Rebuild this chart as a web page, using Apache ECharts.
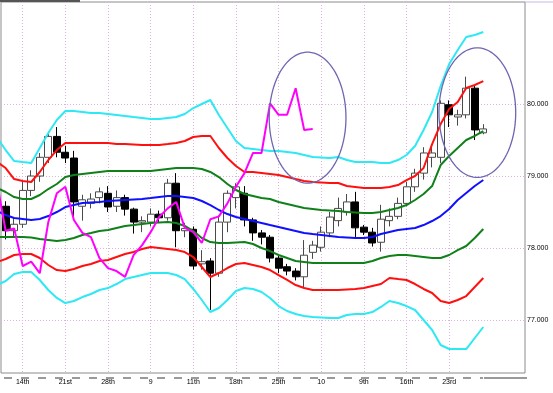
<!DOCTYPE html>
<html><head><meta charset="utf-8">
<script src="https://cdn.jsdelivr.net/npm/echarts@6/dist/echarts.min.js"></script>
<style>html,body{margin:0;padding:0;background:#fff;}#c{width:553px;height:393px;}</style>
</head><body><div id="c"></div>
<script>
// candles: [open, close, low, high], index 0..56
const candles = [
[78.58,78.24,78.12,78.65],[78.24,78.33,78.15,78.42],[78.33,78.80,78.28,78.92],[78.80,79.00,78.72,79.08],
[79.00,79.26,78.92,79.32],[79.26,79.55,79.18,79.62],[79.55,79.33,79.26,79.68],[79.33,79.25,79.18,79.42],
[79.25,78.64,78.40,79.35],[78.58,78.67,78.38,78.74],[78.62,78.68,78.55,78.76],[78.70,78.78,78.62,78.84],
[78.76,78.57,78.50,78.86],[78.58,78.70,78.50,78.80],[78.70,78.54,78.45,78.74],[78.54,78.36,78.20,78.56],
[78.36,78.38,78.22,78.44],[78.36,78.47,78.30,78.55],[78.47,78.42,78.36,78.52],[78.42,78.90,78.38,78.96],
[78.90,78.24,78.01,79.04],[78.24,78.27,78.15,78.35],[78.26,77.75,77.70,78.30],[77.78,77.81,77.70,77.97],
[77.82,77.65,77.14,77.86],[77.65,78.36,77.60,78.45],[78.36,78.76,78.22,78.80],[78.70,78.85,78.55,78.90],
[78.76,78.39,78.30,78.86],[78.39,78.21,78.10,78.42],[78.21,78.15,78.05,78.25],[78.15,77.86,77.80,78.18],
[77.86,77.72,77.65,77.90],[77.74,77.68,77.62,77.78],[77.68,77.60,77.55,77.72],[77.60,77.90,77.45,78.11],
[77.94,78.04,77.85,78.10],[78.01,78.22,77.95,78.30],[78.21,78.43,78.15,78.50],[78.38,78.55,78.30,78.70],
[78.50,78.64,78.45,78.75],[78.64,78.28,78.15,78.78],[78.29,78.22,78.18,78.32],[78.22,78.07,78.02,78.28],
[78.08,78.40,77.95,78.60],[78.38,78.44,78.30,78.55],[78.44,78.62,78.40,78.70],[78.62,78.85,78.58,78.92],
[78.85,79.04,78.78,79.10],[79.04,79.32,78.95,79.40],[79.26,79.32,79.12,79.42],[79.26,80.01,79.18,80.05],
[79.99,79.85,79.68,80.05],[79.82,79.85,79.70,79.92],[79.85,80.22,79.80,80.38],[80.22,79.64,79.50,80.25],
[79.60,79.654,79.58,79.72]
];
// band lines, index -1..56
const bandStart = -1;
const upper3 = [79.528,79.361,79.208,79.194,79.181,79.389,79.597,79.778,79.903,79.903,79.889,79.875,79.875,79.861,79.847,79.833,79.819,79.806,79.792,79.792,79.806,79.819,79.861,79.944,80.000,80.056,79.847,79.667,79.486,79.389,79.375,79.361,79.347,79.347,79.333,79.319,79.292,79.264,79.257,79.250,79.264,79.222,79.194,79.194,79.194,79.181,79.181,79.222,79.292,79.417,79.639,79.889,80.250,80.556,80.750,80.931,80.958,81.000];
const upper2 = [79.194,79.111,78.958,78.931,78.917,79.056,79.222,79.361,79.458,79.458,79.458,79.458,79.458,79.458,79.444,79.444,79.438,79.431,79.431,79.431,79.444,79.458,79.486,79.542,79.556,79.556,79.389,79.250,79.139,79.056,79.056,79.042,79.028,79.014,78.986,78.958,78.931,78.917,78.910,78.903,78.903,78.861,78.847,78.833,78.833,78.833,78.847,78.875,78.944,79.000,79.111,79.444,79.722,79.931,80.028,80.222,80.264,80.319];
const upper1 = [78.833,78.778,78.708,78.681,78.681,78.736,78.819,78.889,78.986,79.014,79.028,79.042,79.056,79.069,79.069,79.069,79.069,79.069,79.069,79.083,79.097,79.111,79.111,79.111,79.097,79.056,78.986,78.889,78.806,78.750,78.722,78.694,78.681,78.639,78.611,78.583,78.556,78.542,78.528,78.521,78.514,78.500,78.493,78.486,78.486,78.500,78.528,78.556,78.597,78.667,78.750,78.861,79.153,79.278,79.389,79.500,79.556,79.625];
const middle = [78.514,78.458,78.417,78.403,78.389,78.403,78.444,78.500,78.569,78.597,78.625,78.632,78.639,78.653,78.660,78.667,78.674,78.681,78.694,78.708,78.722,78.722,78.708,78.694,78.653,78.597,78.528,78.472,78.431,78.403,78.375,78.347,78.319,78.292,78.264,78.236,78.208,78.194,78.181,78.167,78.153,78.146,78.139,78.139,78.153,78.194,78.222,78.250,78.264,78.278,78.319,78.375,78.444,78.542,78.667,78.764,78.861,78.944];
const lower1 = [78.153,78.153,78.153,78.153,78.146,78.125,78.111,78.097,78.111,78.139,78.181,78.208,78.236,78.250,78.278,78.306,78.319,78.333,78.347,78.354,78.361,78.347,78.306,78.236,78.139,78.083,78.069,78.069,78.076,78.083,78.056,78.000,77.958,77.903,77.861,77.819,77.806,77.792,77.792,77.792,77.792,77.792,77.792,77.792,77.819,77.861,77.889,77.903,77.903,77.889,77.875,77.861,77.861,77.903,77.972,78.028,78.139,78.264];
const lower2 = [77.806,77.847,77.903,77.917,77.917,77.861,77.764,77.694,77.681,77.708,77.750,77.778,77.819,77.833,77.875,77.917,77.944,77.986,78.014,78.000,77.986,77.972,77.944,77.875,77.736,77.597,77.653,77.722,77.778,77.792,77.764,77.736,77.694,77.625,77.556,77.486,77.444,77.417,77.417,77.417,77.417,77.424,77.431,77.444,77.472,77.500,77.583,77.569,77.556,77.500,77.431,77.375,77.264,77.236,77.278,77.333,77.458,77.583];
const lower3 = [77.486,77.542,77.639,77.667,77.667,77.556,77.417,77.306,77.236,77.264,77.319,77.361,77.417,77.444,77.500,77.569,77.597,77.625,77.653,77.653,77.653,77.625,77.569,77.431,77.278,77.111,77.167,77.278,77.403,77.444,77.431,77.389,77.306,77.194,77.125,77.083,77.056,77.042,77.035,77.028,77.028,77.069,77.083,77.083,77.111,77.181,77.264,77.236,77.194,77.139,77.000,76.861,76.653,76.597,76.597,76.597,76.750,76.903];
// lagging span (magenta), index -1..36
const lagSpan = [78.90,78.24,78.27,77.75,77.81,77.65,78.36,78.76,78.85,78.39,78.21,78.15,77.86,77.72,77.68,77.60,77.90,78.04,78.22,78.43,78.55,78.64,78.28,78.22,78.07,78.40,78.44,78.62,78.85,79.04,79.32,79.32,80.01,79.85,79.85,80.22,79.64,79.654];
// x tick labels and the candle index they sit on
const xLabelIndex = [2,7,12,17,22,27,32,37,42,47,52];
const xLabels = ['14th','21st','28th','9','11th','18th','25th','10','9th','16th','23rd'];
const yTicks = [77,78,79,80];
const lastPrice = 79.654;
// annotation ellipses: [centerIndex, centerValue, radiusIndex, radiusValue]
const ellipses = [[35.4,79.81,4.5,0.91],[55.3,79.88,4.5,0.90]];

const FONT = 'Liberation Sans';
const withIndex = (arr, start) => arr.map((v, k) => [start + k, v]);
const gridDash = {color:'#d9b4dc', type:[1,2], width:1};

const chart = echarts.init(document.getElementById('c'), null, {renderer:'canvas'});
function band(data, color){
  return {type:'line', data: withIndex(data, bandStart), showSymbol:false, symbol:'none',
    lineStyle:{color:color, width:2}, silent:true, z:3, animation:false};
}
chart.setOption({
  animation:false,
  backgroundColor:'#fff',
  grid:{left:1, top:2, width:524, height:371, show:true, borderColor:'#8c8c8c', borderWidth:1,
        backgroundColor:'#fff', containLabel:false, outerBoundsMode:'none'},
  xAxis:{type:'value', min:-0.544, max:60.89,
    axisLine:{show:false}, axisTick:{show:false, customValues:xLabelIndex},
    axisLabel:{customValues:xLabelIndex, fontSize:7, color:'#000', fontFamily:FONT, margin:6,
      formatter:v=>{const k=xLabelIndex.indexOf(Math.round(v)); return k<0?'':xLabels[k];}},
    splitLine:{show:true, lineStyle:gridDash}},
  yAxis:{type:'value', position:'right', min:76.264, max:81.417,
    axisLine:{show:false}, axisTick:{show:false, customValues:yTicks},
    axisLabel:{customValues:yTicks, fontSize:7, color:'#000', fontFamily:FONT, margin:2,
      formatter:v=>v.toFixed(3)},
    splitLine:{show:true, lineStyle:gridDash}},
  graphic:[
    {type:'rect', left:0, top:0, shape:{width:80, height:2}, style:{fill:'#555'}, silent:true},
    {type:'line', shape:{x1:525, y1:2, x2:553, y2:2}, style:{stroke:'#c8b8e0', lineWidth:1}, silent:true},
    {type:'line', shape:{x1:4, y1:378, x2:483, y2:378}, style:{stroke:'#9a9a9a', lineWidth:2, lineDash:[8,9]}, silent:true},
    {type:'line', shape:{x1:484, y1:378, x2:527, y2:378}, style:{stroke:'#9a9a9a', lineWidth:2}, silent:true}
  ],
  series:[
    {type:'candlestick', data: candles.map((c,i)=>[i, c[0], c[1], c[2], c[3]]),
     encode:{x:0, y:[1,2,3,4]}, barWidth:7.5, z:2,
     itemStyle:{color:'#ffffff', color0:'#000000', borderColor:'#4a4a4a', borderColor0:'#000000', borderWidth:1},
     markLine:{symbol:'none', silent:true, animation:false, data:[{yAxis:lastPrice}],
       lineStyle:{opacity:0},
       label:{position:'end', distance:1, formatter:()=>'{a|'+lastPrice.toFixed(3)+'}{b|}',
         rich:{a:{fontSize:7, fontFamily:FONT, color:'#000', backgroundColor:'#c6c6c6', padding:[2,1,1,1]},
               b:{width:2, height:9, backgroundColor:'#ff66ff'}}}}},
    band(upper3, '#2ee8f4'),
    band(lower3, '#2ee8f4'),
    band(upper2, '#ff1010'),
    band(lower2, '#ff1010'),
    band(upper1, '#10801a'),
    band(lower1, '#10801a'),
    band(middle, '#1010ff'),
    {type:'line', data: withIndex(lagSpan, bandStart), showSymbol:false, symbol:'none',
     lineStyle:{color:'#ff00ff', width:2}, z:4, silent:true},
    {type:'custom', data: ellipses, dimensions:['x','y','rx','ry'], encode:{x:0, y:1}, z:10, silent:true, clip:false,
     renderItem:(params, api)=>{
       const cx=api.value(0), cy=api.value(1), rx=api.value(2), ry=api.value(3);
       const pts=[];
       for(let k=0;k<=90;k++){const t=k/90*2*Math.PI; pts.push(api.coord([cx+rx*Math.cos(t), cy+ry*Math.sin(t)]));}
       return {type:'polyline', shape:{points:pts}, style:{fill:null, stroke:'#6e66b2', lineWidth:1.3}};
     }}
  ]
});
</script></body></html>
